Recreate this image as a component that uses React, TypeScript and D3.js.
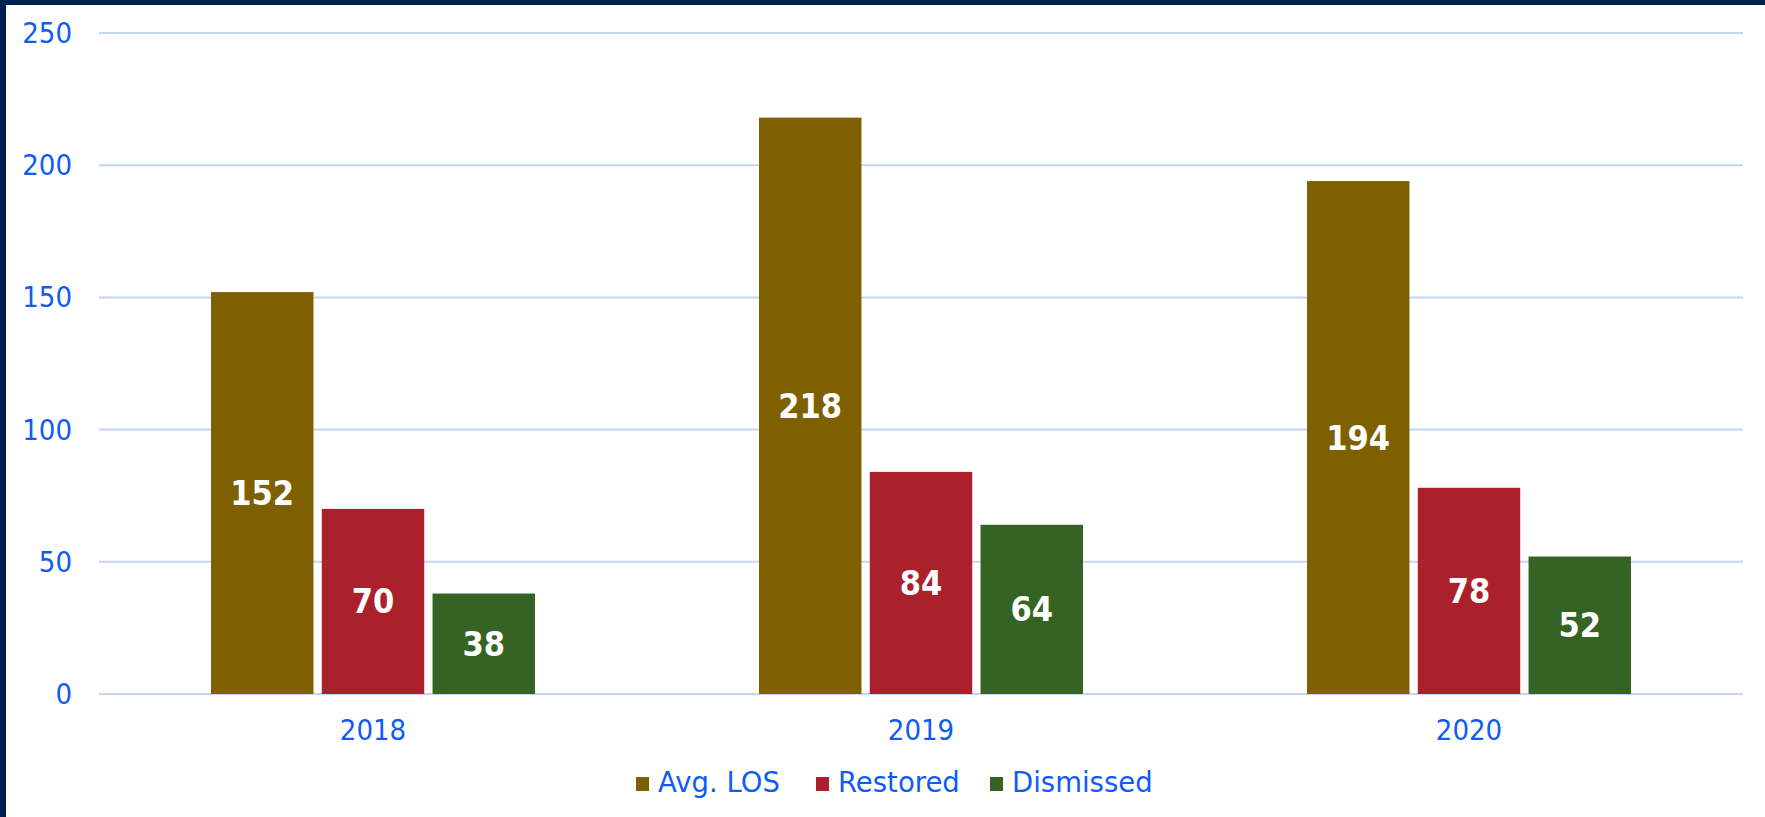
import * as d3 from "d3";

const years = ["2018", "2019", "2020"];
const seriesNames = ["Avg. LOS", "Restored", "Dismissed"];
const avgLos = [152, 218, 194];
const restored = [70, 84, 78];
const dismissed = [38, 64, 52];
const yTicks = [0, 50, 100, 150, 200, 250];

const colors = ["#7f6000", "#ab212b", "#356324"];
const textBlue = "#0f5bf5";
const gridColor = "#c5d5f5";
const condensed = "'DejaVu Sans Condensed', 'DejaVu Sans', sans-serif";
const regular = "'DejaVu Sans', Verdana, sans-serif";

const W = 1765;
const H = 817;
const left = 99;
const right = 1743;
const top = 33;
const bottom = 694;

export default function App() {
  const values = [avgLos, restored, dismissed];
  const x0 = d3.scaleBand<string>().domain(years).range([left, right]).padding(0);
  const groupW = 324;
  const x1 = d3
    .scaleBand<string>()
    .domain(seriesNames)
    .range([0, groupW])
    .paddingInner(0.075);
  const y = d3.scaleLinear().domain([0, 250]).range([bottom, top]);
  const groupOffset = (x0.bandwidth() - groupW) / 2;

  // legend item x positions (square, label)
  const legendX = [636, 816, 990];

  return (
    <svg
      width={W}
      height={H}
      style={{ position: "absolute", left: 0, top: 0, display: "block" }}
      fontFamily={condensed}
    >
      <rect x={0} y={0} width={W} height={H} fill="#ffffff" />
      <rect x={0} y={0} width={W} height={5} fill="#00214f" />
      <rect x={0} y={0} width={6} height={H} fill="#00214f" />

      {yTicks.map((t) => (
        <g key={t}>
          <line x1={left} x2={right} y1={y(t)} y2={y(t)} stroke={gridColor} strokeWidth={2} />
          <text
            x={72}
            y={y(t)}
            textAnchor="end"
            dominantBaseline="central"
            fontSize={29}
            fill={textBlue}
          >
            {t}
          </text>
        </g>
      ))}

      {years.map((yr, i) => (
        <g key={yr} transform={`translate(${x0(yr)! + groupOffset},0)`}>
          {seriesNames.map((s, j) => {
            const v = values[j][i];
            const bx = x1(s)!;
            const by = y(v);
            return (
              <g key={s}>
                <rect x={bx} y={by} width={x1.bandwidth()} height={y(0) - by} fill={colors[j]} />
                <text
                  x={bx + x1.bandwidth() / 2}
                  y={(by + y(0)) / 2}
                  textAnchor="middle"
                  dominantBaseline="central"
                  fontSize={34}
                  fontWeight="bold"
                  fill="#ffffff"
                >
                  {v}
                </text>
              </g>
            );
          })}
        </g>
      ))}

      {years.map((yr) => (
        <text
          key={yr}
          x={x0(yr)! + x0.bandwidth() / 2}
          y={740}
          textAnchor="middle"
          fontSize={29}
          fill={textBlue}
        >
          {yr}
        </text>
      ))}

      {seriesNames.map((s, j) => (
        <g key={s}>
          <rect x={legendX[j]} y={777} width={13} height={14} fill={colors[j]} />
          <text
            x={legendX[j] + 22}
            y={792}
            fontFamily={regular}
            fontSize={27.5}
            fill={textBlue}
          >
            {s}
          </text>
        </g>
      ))}
    </svg>
  );
}
